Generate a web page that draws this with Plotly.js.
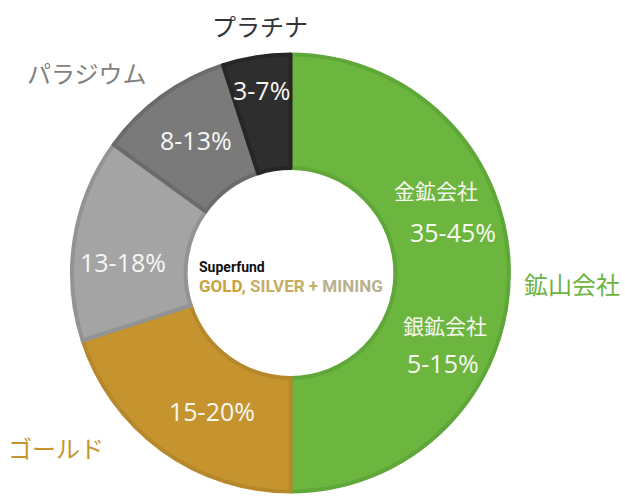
<!DOCTYPE html>
<html>
<head>
<meta charset="utf-8">
<script src="https://cdn.plot.ly/plotly-3.0.1.min.js"></script>
<style>html,body{margin:0;padding:0;background:#fff;}#chart{width:625px;height:497px;}</style>
</head>
<body>
<div id="chart"></div>
<script>
// Data
const categories = ["鉱山会社", "ゴールド", "シルバー", "パラジウム", "プラチナ"];
const outerLabels = ["鉱山会社", "ゴールド", "", "パラジウム", "プラチナ"];
const values = [50, 20, 15, 10, 5];
const rangeLabels = ["", "15-20%", "13-18%", "8-13%", "3-7%"];
const subCategories = ["金鉱会社", "銀鉱会社"];
const subRanges = ["35-45%", "5-15%"];
const fillColors = ["#6cb63f", "#c5942e", "#a4a4a4", "#7a7a7a", "#2e2e2e"];
const lineColors = ["#5fa739", "#b7882b", "#939393", "#6b6b6b", "#262626"];
const outerColors = ["#6cb43f", "#c5942e", "#a4a4a4", "#7f7f7f", "#333333"];

const W = 625, H = 497;
const px = (x) => x / W;
const py = (y) => 1 - y / H;

const trace = {
  type: "pie",
  labels: categories,
  values: values,
  sort: false,
  direction: "clockwise",
  rotation: 0,
  hole: 0.48,
  textinfo: "none",
  hoverinfo: "label+value",
  marker: { colors: fillColors, line: { color: lineColors, width: 4 } },
  domain: { x: [px(72), px(509)], y: [py(491.5), py(54.5)] },
  showlegend: false
};

const FONT_NUM = "Open Sans, Noto Sans CJK JP, sans-serif";
const FONT_JP = "Noto Sans CJK JP, sans-serif";
const FONT_LOGO = "Roboto, Liberation Sans, sans-serif";
const white = "#f7f7f2";

const annotations = [];
function ann(text, x, y, size, color, family) {
  annotations.push({
    text: text, x: px(x), y: py(y), xref: "paper", yref: "paper",
    xanchor: "center", yanchor: "middle", showarrow: false,
    font: { size: size, color: color, family: family }
  });
}
// outer labels
const outerPos = [[572, 283], [56, 447], null, [87, 72], [260, 25]];
outerLabels.forEach((t, i) => { if (t) ann(t, outerPos[i][0], outerPos[i][1], 24, outerColors[i], FONT_JP); });
// inner range labels
const innerPos = [null, [212, 411], [123, 262], [196, 140], [261, 90]];
rangeLabels.forEach((t, i) => { if (t) ann(t, innerPos[i][0], innerPos[i][1], 25, white, FONT_NUM); });
// mining sub-labels
ann(subCategories[0], 436, 190, 21, white, FONT_JP);
ann(subRanges[0], 453, 232, 25, white, FONT_NUM);
ann(subCategories[1], 445, 325, 21, white, FONT_JP);
ann(subRanges[1], 443, 363, 25, white, FONT_NUM);
// center logo
annotations.push({
  text: "<b>Superfund</b>", x: px(197), y: py(267), xref: "paper", yref: "paper",
  xanchor: "left", yanchor: "middle", showarrow: false,
  font: { size: 14, color: "#111111", family: FONT_LOGO }
});
annotations.push({
  text: "<b><span style='color:#c9a23e'>GOLD, </span><span style='color:#c6ad62'>SILVER + </span><span style='color:#b9b08c'>MINING</span></b>",
  x: px(197), y: py(286), xref: "paper", yref: "paper",
  xanchor: "left", yanchor: "middle", showarrow: false,
  font: { size: 17, color: "#c6ad62", family: FONT_LOGO }
});

const layout = {
  width: W, height: H,
  margin: { l: 0, r: 0, t: 0, b: 0 },
  paper_bgcolor: "#ffffff",
  plot_bgcolor: "#ffffff",
  annotations: annotations
};

Plotly.newPlot("chart", [trace], layout, { displayModeBar: false, staticPlot: true });
</script>
</body>
</html>
